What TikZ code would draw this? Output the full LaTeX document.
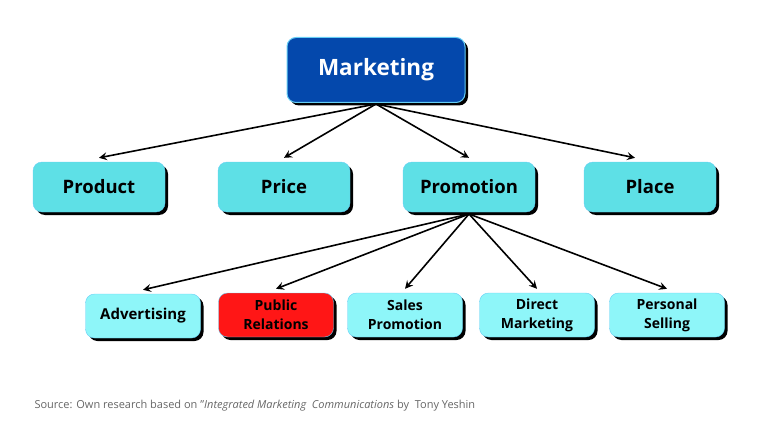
\documentclass[tikz,border=0pt]{standalone}
\usepackage{fontspec}
\setmainfont{Open Sans}
\usetikzlibrary{shadows,arrows.meta}
\definecolor{topblue}{HTML}{0448AC}
\definecolor{midcyan}{HTML}{5EE0E6}
\definecolor{lowcyan}{HTML}{8EF6F9}
\definecolor{prred}{HTML}{FF1616}
\tikzset{
  box/.style={draw=cyan!60, rounded corners=9pt, align=center, font=\bfseries, inner sep=1pt,
    drop shadow={shadow xshift=3pt, shadow yshift=-3pt, fill=black, opacity=1}},
  topbox/.style={box, fill=topblue, text=white, minimum width=178pt, minimum height=65pt, font=\bfseries\fontsize{22.5}{26}\selectfont, line width=1pt},
  midbox/.style={box, fill=midcyan, minimum width=132pt, minimum height=50pt, font=\bfseries\fontsize{18.5}{22}\selectfont},
  lowbox/.style={box, fill=lowcyan, minimum width=115pt, minimum height=44pt, font=\bfseries\fontsize{15}{19}\selectfont},
  lowtwo/.style={lowbox, font=\bfseries\fontsize{14}{19}\selectfont},
  link/.style={-{Stealth[length=8pt,width=8pt,inset=3pt]}, line width=1.6pt}
}
\begin{document}
\begin{tikzpicture}[x=1pt,y=-1pt]
  \useasboundingbox (0,0) rectangle (770,433);
  \node[topbox] (marketing) at (376,70) {Marketing};

  \node[midbox] (product) at (99,187) {Product};
  \node[midbox] (price) at (284,187) {Price};
  \node[midbox] (promotion) at (469,187) {Promotion};
  \node[midbox] (place) at (650,187) {Place};

  \node[lowbox] (advertising) at (143,316) {Advertising};
  \node[lowtwo, fill=prred] (relations) at (276,315) {Public\\Relations};
  \node[lowtwo] (sales) at (405,315) {Sales\\Promotion};
  \node[lowtwo] (direct) at (537,315) {Direct\\Marketing};
  \node[lowtwo] (selling) at (667,315) {Personal\\Selling};

  \coordinate (mk) at (376,104);
  \coordinate (pm) at (469,214);
  \foreach \t/\dx in {product/0, price/0, promotion/0, place/-15} {
    \draw[link] (mk) -- ([xshift=\dx pt, yshift=4pt]\t.north);
  }
  \foreach \t/\dx in {advertising/0, relations/0, sales/0, direct/0, selling/0} {
    \draw[link] (pm) -- ([yshift=4pt]\t.north);
  }

  \node[anchor=west, text=black!60, font=\fontsize{11}{13}\selectfont] (source) at (31,406)
    {Source: Own research based on ''\textit{Integrated Marketing\ \ Communications} by\ \ Tony Yeshin};
\end{tikzpicture}
\end{document}
